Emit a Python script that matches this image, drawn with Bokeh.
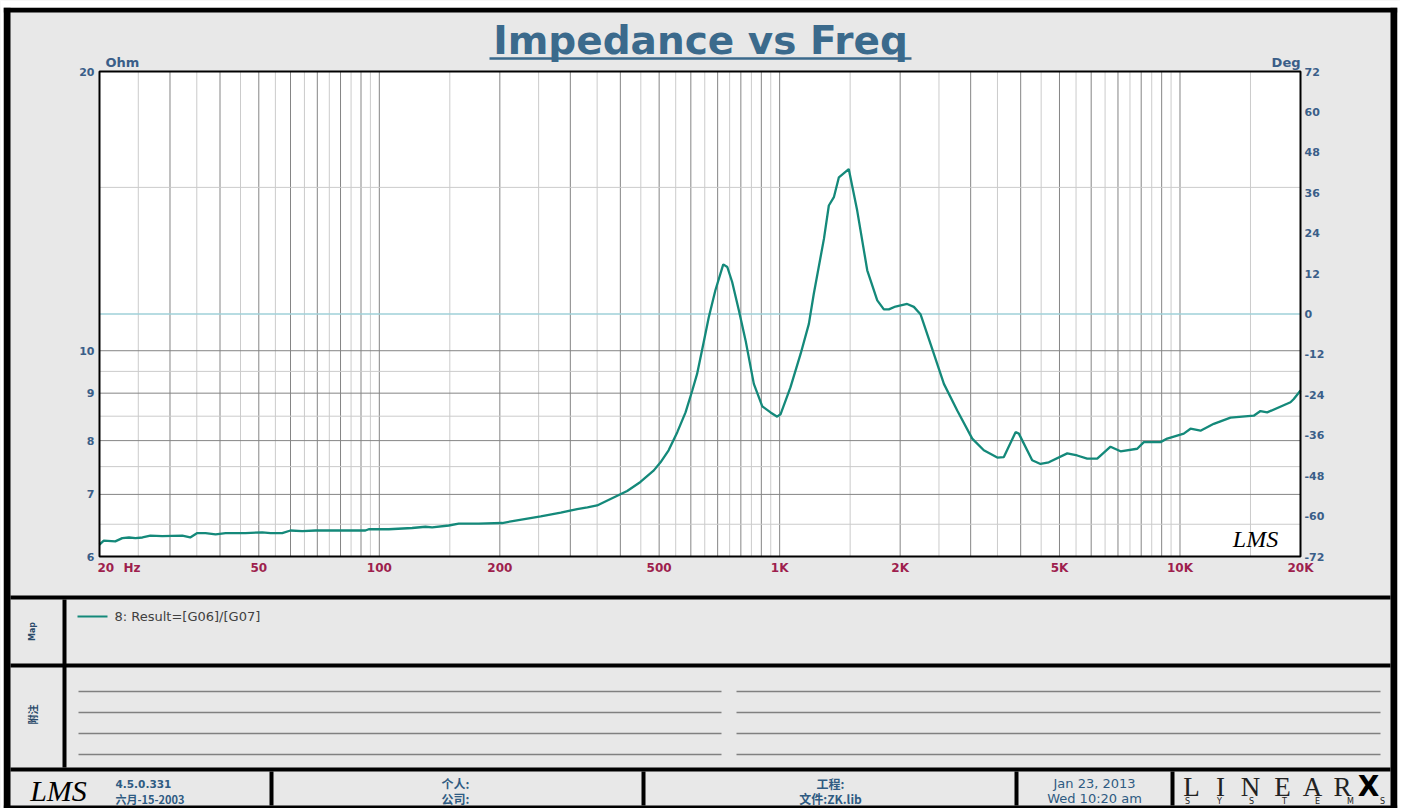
import numpy as np
from bokeh.plotting import figure
from bokeh.plotting.glyph_api import GlyphAPI
from bokeh.models import Range1d, LogScale, LinearScale, CoordinateMapping
from bokeh.core.properties import value
from bokeh.embed import file_html
from bokeh.resources import INLINE

# ---------------- data ----------------
freq_hz = [20, 20.5, 21.9, 22.8, 23.7, 24.6, 25.6, 26.8, 28.7, 32.2, 33.7, 35.1, 36.8, 39.0,
           41.3, 46.3, 51.0, 53.5, 57.2, 60.0, 64.2, 69.3, 74.8, 83.9, 92.3, 94.1, 105.6,
           120.8, 130.4, 135.5, 149.1, 157.9, 177.2, 202.7, 218.9, 253, 284, 312, 331, 350,
           378, 416, 449, 485, 504, 528, 555, 582, 605, 622, 646, 665, 691, 723, 740, 761,
           791, 822, 862, 905, 949, 986, 1005, 1064, 1128, 1183, 1217, 1290, 1327, 1366,
           1406, 1488, 1562, 1655, 1753, 1821, 1874, 1947, 2082, 2164, 2248, 2428, 2572,
           2777, 3027, 3236, 3496, 3631, 3884, 3958, 4274, 4483, 4702, 5228, 5536, 5864,
           6212, 6706, 7103, 7820, 8122, 8942, 9292, 10220, 10624, 11252, 12146, 13372,
           15286, 15886, 16512, 18883, 19245, 20000]
impedance_ohm = [6.18, 6.24, 6.23, 6.28, 6.29, 6.28, 6.29, 6.32, 6.31, 6.32, 6.29, 6.36, 6.36,
                 6.34, 6.36, 6.36, 6.37, 6.36, 6.36, 6.40, 6.39, 6.40, 6.40, 6.40, 6.40, 6.42,
                 6.42, 6.44, 6.46, 6.45, 6.48, 6.51, 6.51, 6.52, 6.56, 6.63, 6.69, 6.75, 6.78,
                 6.81, 6.92, 7.06, 7.22, 7.43, 7.58, 7.81, 8.17, 8.58, 9.06, 9.44, 10.21, 10.86,
                 11.62, 12.39, 12.31, 11.86, 11.05, 10.26, 9.21, 8.71, 8.58, 8.49, 8.54, 9.13,
                 9.92, 10.69, 11.52, 13.20, 14.34, 14.64, 15.38, 15.70, 14.16, 12.21, 11.33,
                 11.08, 11.08, 11.16, 11.23, 11.15, 10.95, 9.92, 9.21, 8.62, 8.04, 7.81, 7.67,
                 7.68, 8.17, 8.14, 7.62, 7.55, 7.58, 7.75, 7.71, 7.65, 7.65, 7.88, 7.79, 7.84,
                 7.97, 7.97, 8.04, 8.14, 8.24, 8.20, 8.34, 8.47, 8.51, 8.61, 8.58, 8.80, 8.87, 9.06]

ohm_ticks = [20, 10, 9, 8, 7, 6]
ohm_tick_labels = ["20", "10", "9", "8", "7", "6"]
deg_ticks = [72, 60, 48, 36, 24, 12, 0, -12, -24, -36, -48, -60, -72]
deg_tick_labels = ["72", "60", "48", "36", "24", "12", "0", "-12", "-24", "-36", "-48", "-60", "-72"]
freq_ticks = [20, 50, 100, 200, 500, 1000, 2000, 5000, 10000, 20000]
freq_tick_labels = ["20", "50", "100", "200", "500", "1K", "2K", "5K", "10K", "20K"]
freq_unit = "Hz"
ohm_grid_major = [7, 8, 9, 10]
ohm_grid_minor = [6.5, 7.5, 8.5, 9.5, 15]
freq_grid_major = [d * k for d in (10, 100, 1000) for k in range(2, 11) if 20 < d * k < 20000]
freq_grid_minor = [10 * (k + 0.5) for k in range(2, 10)] + \
                  [d * (k + 0.5) for d in (100, 1000, 10000) for k in range(1, 10) if d * (k + 0.5) < 20000]

title_text = "Impedance vs Freq"
legend_text = "8: Result=[G06]/[G07]"

# ---------------- styles ----------------
BG = "#e8e8e8"
AXIS_BLUE = "#3a5e88"
X_RED = "#9e1f4e"
TITLE_C = "#3b6a8c"
GRID_DARK = "#858585"
GRID_LIGHT = "#cbcbcb"
CURVE = "#14897a"
ZERO_C = "#9fd0d8"
FOOT_C = "#2f5b82"

W, H = 1400, 808
p = figure(width=W, height=H, x_range=Range1d(0, W), y_range=Range1d(H, 0),
           toolbar_location=None, output_backend="svg", min_border=0,
           x_axis_location=None, y_axis_location=None)
p.grid.visible = False
p.outline_line_color = None
p.background_fill_color = BG
p.border_fill_color = BG

# sub-coordinate systems for the chart area (log f, log ohm / linear deg)
imp_map = CoordinateMapping(x_source=Range1d(20, 20000), y_source=Range1d(6, 20),
                            x_scale=LogScale(), y_scale=LogScale(),
                            x_target=Range1d(99, 1300), y_target=Range1d(556, 71))
deg_map = CoordinateMapping(x_source=Range1d(20, 20000), y_source=Range1d(-72, 72),
                            x_scale=LogScale(), y_scale=LinearScale(),
                            x_target=Range1d(99, 1300), y_target=Range1d(556, 71))
imp = GlyphAPI(p, imp_map)
deg = GlyphAPI(p, deg_map)


def txt(x, y, s, size, color, font="DejaVu Sans", style="normal", align="left",
        baseline="middle", angle=0.0):
    p.text(x=[x], y=[y], text=[s], text_font=value(font), text_font_size=size,
           text_font_style=style, text_color=color, text_align=align,
           text_baseline=baseline, angle=angle)


# chart area
imp.quad(left=[20], right=[20000], bottom=[6], top=[20], fill_color="white", line_color=None)
imp.segment(x0=freq_grid_minor, y0=6, x1=freq_grid_minor, y1=20, line_color=GRID_LIGHT, line_width=1)
imp.segment(x0=freq_grid_major, y0=6, x1=freq_grid_major, y1=20, line_color=GRID_DARK, line_width=1)
imp.segment(x0=20, y0=ohm_grid_minor, x1=20000, y1=ohm_grid_minor, line_color=GRID_LIGHT, line_width=1)
imp.segment(x0=20, y0=ohm_grid_major, x1=20000, y1=ohm_grid_major, line_color=GRID_DARK, line_width=1)
deg.segment(x0=[20], y0=[0], x1=[20000], y1=[0], line_color=ZERO_C, line_width=1.3)
imp.line(freq_hz, impedance_ohm, line_color=CURVE, line_width=2.3)
imp.quad(left=[20], right=[20000], bottom=[6], top=[20], fill_color=None, line_color="black", line_width=2)

# tick labels
imp.text(x=20, y=ohm_ticks, text=ohm_tick_labels, x_offset=-5, text_align="right",
         text_baseline="middle", text_font=value("DejaVu Sans"), text_font_style="bold",
         text_font_size="11px", text_color=AXIS_BLUE)
deg.text(x=20000, y=deg_ticks, text=deg_tick_labels, x_offset=4, text_align="left",
         text_baseline="middle", text_font=value("DejaVu Sans"), text_font_style="bold",
         text_font_size="11px", text_color=AXIS_BLUE)
imp.text(x=freq_ticks[:1], y=6, text=freq_tick_labels[:1], x_offset=-2, y_offset=11,
         text_align="left", text_baseline="middle", text_font=value("DejaVu Sans"),
         text_font_style="bold", text_font_size="12px", text_color=X_RED)
imp.text(x=freq_ticks[:1], y=6, text=[freq_unit], x_offset=24, y_offset=11,
         text_align="left", text_baseline="middle", text_font=value("DejaVu Sans"),
         text_font_style="bold", text_font_size="12px", text_color=X_RED)
imp.text(x=freq_ticks[1:], y=6, text=freq_tick_labels[1:], y_offset=11,
         text_align="center", text_baseline="middle", text_font=value("DejaVu Sans"),
         text_font_style="bold", text_font_size="12px", text_color=X_RED)
txt(105, 62, "Ohm", "13px", AXIS_BLUE, style="bold")
txt(1300, 62, "Deg", "13px", AXIS_BLUE, style="bold", align="right")

# title
txt(700, 40, title_text, "39px", TITLE_C, style="bold", align="center", baseline="middle")
p.segment(x0=[489], y0=[58], x1=[911], y1=[58], line_color=TITLE_C, line_width=2.5)

# LMS mark inside chart
txt(1255, 538, "LMS", "24px", "black", font="Liberation Serif", style="italic", align="center")

# ---------------- frame / panels ----------------
bands_l = [3, 3, 1390, 3, 10, 10, 10, 62, 269, 641, 1014, 1170]
bands_r = [1397, 10, 1397, 1397, 1390, 1390, 1390, 66, 273, 645, 1018, 1174]
bands_t = [7, 7, 7, 805, 595, 663, 767, 599, 771, 771, 771, 771]
bands_b = [12, 808, 808, 808, 599, 667, 771, 767, 805, 805, 805, 805]
p.quad(left=bands_l, right=bands_r, top=bands_t, bottom=bands_b, fill_color="black", line_color=None)
p.quad(left=[1397, 0, 0], right=[W, 3, W], top=[0, 0, 0], bottom=[H, H, 7],
       fill_color="white", line_color=None)

# Map panel
txt(32, 631, "Map", "8px", "#2a4a6a", style="bold", align="center", angle=np.pi / 2)
p.segment(x0=[77], y0=[616], x1=[107], y1=[616], line_color=CURVE, line_width=2)
txt(114, 616, legend_text, "13px", "#404040")

# 附注 panel
txt(32, 714, "附注", "10px", "#2a4a6a", font="Noto Sans CJK SC", style="bold", align="center", angle=np.pi / 2)
note_y = [691, 712, 733, 754]
p.segment(x0=[78] * 4 + [736] * 4, y0=note_y * 2, x1=[721] * 4 + [1380] * 4, y1=note_y * 2,
          line_color="#808080", line_width=1.3)

# footer
txt(58, 790, "LMS", "30px", "black", font="Liberation Serif", style="italic", align="center")
txt(115, 783, "4.5.0.331", "10.5px", FOOT_C, style="bold")
txt(115, 798, "六月-15-2003", "11px", FOOT_C, font="Noto Sans CJK SC", style="bold")
txt(441, 783, "个人:", "12px", FOOT_C, font="Noto Sans CJK SC", style="bold")
txt(441, 798, "公司:", "12px", FOOT_C, font="Noto Sans CJK SC", style="bold")
txt(830, 783, "工程:", "12px", FOOT_C, font="Noto Sans CJK SC", style="bold", align="center")
txt(830, 798, "文件:ZK.lib", "12px", FOOT_C, font="Noto Sans CJK SC", style="bold", align="center")
txt(1094, 783, "Jan 23, 2013", "13px", FOOT_C, align="center")
txt(1094, 798, "Wed 10:20 am", "13px", FOOT_C, align="center")
logo_x = [1191, 1220, 1250, 1282, 1312, 1342]
p.text(x=logo_x, y=786, text=list("LINEAR"), text_font=value("Liberation Serif"),
       text_font_size="27px", text_color="#222222", text_align="center", text_baseline="middle")
txt(1368, 786, "X", "28px", "black", style="bold", align="center")
sys_x = [1187, 1219, 1251, 1284, 1317, 1350, 1382]
p.text(x=sys_x, y=801, text=list("SYSTEMS"), text_font=value("DejaVu Sans"),
       text_font_size="8px", text_color="#222222", text_align="center", text_baseline="middle")

open("out.html", "w").write(file_html(p, INLINE))
